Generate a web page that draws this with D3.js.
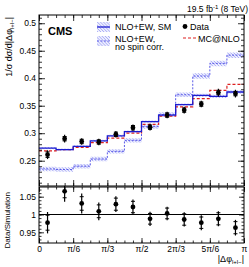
<!DOCTYPE html>
<html>
<head>
<meta charset="utf-8">
<script src="https://cdn.jsdelivr.net/npm/d3@7"></script>
<style>
  body { margin: 0; background: #fff; }
  svg { display: block; font-family: 'Liberation Sans', Arial, sans-serif; }
</style>
</head>
<body>
<div id="chart"></div>
<script>
// values, 12 bins in |dphi| from 0 to pi
var binCount = 12
var dataVals = [0.261, 0.290, 0.285, 0.284, 0.298, 0.310, 0.311, 0.333, 0.342, 0.353, 0.374, 0.372]
var dataTotErr = [0.008, 0.007, 0.006, 0.006, 0.006, 0.006, 0.006, 0.006, 0.006, 0.006, 0.007, 0.007]
var dataStatErr = [0.005, 0.004, 0.004, 0.004, 0.004, 0.004, 0.004, 0.004, 0.004, 0.004, 0.004, 0.004]
var smVals = [0.273, 0.270, 0.276, 0.286, 0.295, 0.303, 0.321, 0.333, 0.352, 0.369, 0.367, 0.375]
var smUnc = [0.002, 0.002, 0.002, 0.002, 0.002, 0.002, 0.002, 0.002, 0.002, 0.003, 0.003, 0.003]
var noSpinVals = [0.235, 0.234, 0.240, 0.253, 0.267, 0.287, 0.312, 0.334, 0.370, 0.404, 0.427, 0.442]
var noSpinUnc = [0.004, 0.004, 0.004, 0.004, 0.004, 0.004, 0.004, 0.004, 0.004, 0.005, 0.005, 0.005]
var mcVals = [0.268, 0.270, 0.274, 0.283, 0.291, 0.300, 0.316, 0.331, 0.348, 0.363, 0.378, 0.389]
var ratioVals = [0.977, 1.065, 1.031, 1.009, 1.029, 1.021, 0.988, 1.003, 0.986, 0.977, 0.988, 0.963]
var ratioTotErr = [0.030, 0.029, 0.028, 0.025, 0.022, 0.021, 0.020, 0.019, 0.020, 0.021, 0.021, 0.022]
var ratioStatErr = [0.021, 0.018, 0.019, 0.018, 0.017, 0.016, 0.015, 0.015, 0.016, 0.016, 0.017, 0.017]

var xTickVals = [0, Math.PI / 6, Math.PI / 3, Math.PI / 2, 2 * Math.PI / 3, 5 * Math.PI / 6, Math.PI]
var xTickLabels = ['0', 'π/6', 'π/3', 'π/2', '2π/3', '5π/6', 'π']
var yMainTicks = [0.25, 0.3, 0.35, 0.4, 0.45, 0.5]
var yMainLabels = ['0.25', '0.3', '0.35', '0.4', '0.45', '0.5']
var yRatioTicks = [0.95, 1, 1.05]
var yRatioLabels = ['0.95', '1', '1.05']

var width = 249
var height = 267
var left = 39
var right = 244
var mainTop = 15
var mainBottom = 186
var ratioBottom = 243

var svg = d3.select('#chart')
  .append('svg')
  .attr('width', width)
  .attr('height', height)

var defs = svg.append('defs')
var hatch = defs.append('pattern')
  .attr('id', 'hatch')
  .attr('patternUnits', 'userSpaceOnUse')
  .attr('width', 2.2)
  .attr('height', 2.2)
  .attr('patternTransform', 'rotate(-45)')
hatch.append('rect').attr('width', 2.2).attr('height', 2.2).attr('fill', '#eef0ff')
hatch.append('line')
  .attr('x1', 0).attr('y1', 0).attr('x2', 0).attr('y2', 2.2)
  .attr('stroke', '#8c8cf0').attr('stroke-width', 1)

defs.append('clipPath').attr('id', 'clipMain')
  .append('rect').attr('x', left).attr('y', mainTop).attr('width', right - left).attr('height', mainBottom - mainTop)
defs.append('clipPath').attr('id', 'clipRatio')
  .append('rect').attr('x', left).attr('y', mainBottom).attr('width', right - left).attr('height', ratioBottom - mainBottom)

// scales
var x = d3.scaleLinear().domain([0, Math.PI]).range([left, right])
var yMain = d3.scaleLinear().domain([0.204, 0.515]).range([mainBottom, mainTop])
var yRatio = d3.scaleLinear().domain([0.92, 1.08]).range([ratioBottom, mainBottom])

var edges = d3.range(binCount + 1).map(i => i * Math.PI / binCount)
var centers = d3.range(binCount).map(i => (edges[i] + edges[i + 1]) / 2)
var xMinor = d3.range(25).map(i => i * Math.PI / 24)

function stepPoints (vals) {
  var pts = vals.map((v, i) => [edges[i], v])
  pts.push([edges[binCount], vals[binCount - 1]])
  return pts
}

var mainG = svg.append('g').attr('clip-path', 'url(#clipMain)')

// bands
function band (vals, unc) {
  var pts = vals.map((v, i) => ({ x: edges[i], lo: v - unc[i], hi: v + unc[i] }))
  pts.push({ x: edges[binCount], lo: pts[binCount - 1].lo, hi: pts[binCount - 1].hi })
  return d3.area().curve(d3.curveStepAfter)
    .x(d => x(d.x))
    .y0(d => yMain(d.lo))
    .y1(d => yMain(d.hi))(pts)
}

mainG.append('path').attr('d', band(noSpinVals, noSpinUnc)).attr('fill', 'url(#hatch)')
mainG.append('path').attr('d', band(smVals, smUnc)).attr('fill', 'url(#hatch)')

var stepLine = d3.line().curve(d3.curveStepAfter)
  .x(d => x(d[0]))
  .y(d => yMain(d[1]))

mainG.append('path').attr('d', stepLine(stepPoints(noSpinVals)))
  .attr('fill', 'none').attr('stroke', '#5a5ae8').attr('stroke-width', 1)
  .attr('stroke-dasharray', '2,1.5')
mainG.append('path').attr('d', stepLine(stepPoints(mcVals)))
  .attr('fill', 'none').attr('stroke', '#dd2020').attr('stroke-width', 1.2)
  .attr('stroke-dasharray', '3,2')
mainG.append('path').attr('d', stepLine(stepPoints(smVals)))
  .attr('fill', 'none').attr('stroke', '#1c1cd0').attr('stroke-width', 1.3)

// data points
function drawPoints (g, yScale, vals, tot, stat) {
  var pts = g.selectAll('g.pt')
    .data(vals.map((v, i) => ({ x: centers[i], v: v, tot: tot[i], stat: stat[i] })))
    .enter().append('g').attr('class', 'pt')
  pts.append('line')
    .attr('x1', d => x(d.x)).attr('x2', d => x(d.x))
    .attr('y1', d => yScale(d.v - d.tot)).attr('y2', d => yScale(d.v + d.tot))
    .attr('stroke', '#000').attr('stroke-width', 1.2)
  pts.append('line')
    .attr('x1', d => x(d.x) - 2).attr('x2', d => x(d.x) + 2)
    .attr('y1', d => yScale(d.v - d.stat)).attr('y2', d => yScale(d.v - d.stat))
    .attr('stroke', '#000').attr('stroke-width', 1)
  pts.append('line')
    .attr('x1', d => x(d.x) - 2).attr('x2', d => x(d.x) + 2)
    .attr('y1', d => yScale(d.v + d.stat)).attr('y2', d => yScale(d.v + d.stat))
    .attr('stroke', '#000').attr('stroke-width', 1)
  pts.append('circle')
    .attr('cx', d => x(d.x)).attr('cy', d => yScale(d.v))
    .attr('r', 2.4).attr('fill', '#000')
}

drawPoints(mainG, yMain, dataVals, dataTotErr, dataStatErr)

// ratio panel
var ratioG = svg.append('g').attr('clip-path', 'url(#clipRatio)')
ratioG.append('line')
  .attr('x1', x(0)).attr('x2', x(Math.PI))
  .attr('y1', yRatio(1)).attr('y2', yRatio(1))
  .attr('stroke', '#000').attr('stroke-width', 1)
drawPoints(ratioG, yRatio, ratioVals, ratioTotErr, ratioStatErr)

// axes, ticks pointing inwards on all four sides
function tickAxis (axisFn, scale, vals, size, fmt, transform) {
  var ax = axisFn(scale).tickValues(vals).tickSizeInner(-size).tickSizeOuter(0).tickPadding(3)
  if (fmt) ax.tickFormat((d, i) => fmt[i])
  else ax.tickFormat('')
  var g = svg.append('g').attr('class', 'axis').attr('transform', transform).call(ax)
  g.select('.domain').remove()
  g.selectAll('line').attr('stroke', '#000').attr('stroke-width', 0.8)
  g.selectAll('text').attr('font-size', 8.5).attr('fill', '#000').attr('font-family', "'Liberation Sans', Arial, sans-serif")
  return g
}

var yMainMinor = d3.range(21, 52).map(i => i / 100)
var yRatioMinor = d3.range(93, 108).map(i => i / 100)

// main panel
tickAxis(d3.axisLeft, yMain, yMainTicks, 6, yMainLabels, 'translate(' + left + ',0)')
tickAxis(d3.axisLeft, yMain, yMainMinor, 3, null, 'translate(' + left + ',0)')
tickAxis(d3.axisRight, yMain, yMainTicks, 6, null, 'translate(' + right + ',0)')
tickAxis(d3.axisRight, yMain, yMainMinor, 3, null, 'translate(' + right + ',0)')
tickAxis(d3.axisBottom, x, xTickVals, 6, null, 'translate(0,' + mainBottom + ')')
tickAxis(d3.axisBottom, x, xMinor, 3, null, 'translate(0,' + mainBottom + ')')
tickAxis(d3.axisTop, x, xTickVals, 6, null, 'translate(0,' + mainTop + ')')
tickAxis(d3.axisTop, x, xMinor, 3, null, 'translate(0,' + mainTop + ')')

// ratio panel
tickAxis(d3.axisLeft, yRatio, yRatioTicks, 5, yRatioLabels, 'translate(' + left + ',0)')
tickAxis(d3.axisLeft, yRatio, yRatioMinor, 2.5, null, 'translate(' + left + ',0)')
tickAxis(d3.axisRight, yRatio, yRatioTicks, 5, null, 'translate(' + right + ',0)')
tickAxis(d3.axisRight, yRatio, yRatioMinor, 2.5, null, 'translate(' + right + ',0)')
tickAxis(d3.axisBottom, x, xTickVals, 5, xTickLabels, 'translate(0,' + ratioBottom + ')')
tickAxis(d3.axisBottom, x, xMinor, 2.5, null, 'translate(0,' + ratioBottom + ')')
tickAxis(d3.axisTop, x, xTickVals, 5, null, 'translate(0,' + (mainBottom + 1) + ')')
tickAxis(d3.axisTop, x, xMinor, 2.5, null, 'translate(0,' + (mainBottom + 1) + ')')

// frames
svg.append('rect').attr('x', left).attr('y', mainTop).attr('width', right - left).attr('height', mainBottom - mainTop)
  .attr('fill', 'none').attr('stroke', '#000').attr('stroke-width', 1)
svg.append('rect').attr('x', left).attr('y', mainBottom + 1).attr('width', right - left).attr('height', ratioBottom - mainBottom - 1)
  .attr('fill', 'none').attr('stroke', '#000').attr('stroke-width', 1)

// titles
var lumi = svg.append('text').attr('x', 248).attr('y', 12).attr('text-anchor', 'end').attr('font-size', 8.5)
lumi.append('tspan').text('19.5 fb')
lumi.append('tspan').attr('dy', -3).attr('font-size', 6).text('-1')
lumi.append('tspan').attr('dy', 3).text(' (8 TeV)')

svg.append('text').attr('x', 48).attr('y', 35).attr('font-size', 11).attr('font-weight', 'bold').text('CMS')

var yLab = svg.append('text')
  .attr('transform', 'translate(12,17) rotate(-90)')
  .attr('text-anchor', 'end').attr('font-size', 9)
yLab.append('tspan').text('1/σ dσ/d|Δφ')
yLab.append('tspan').attr('dy', 2).attr('font-size', 6).text('l+l−')
yLab.append('tspan').attr('dy', -2).text('|')

svg.append('text')
  .attr('transform', 'translate(10,192) rotate(-90)')
  .attr('text-anchor', 'end').attr('font-size', 8).text('Data/Simulation')

var xLab = svg.append('text').attr('x', 244).attr('y', 262).attr('text-anchor', 'end').attr('font-size', 9)
xLab.append('tspan').text('|Δφ')
xLab.append('tspan').attr('dy', 2).attr('font-size', 6).text('l+l−')
xLab.append('tspan').attr('dy', -2).text('|')

// legend
var legend = svg.append('g').attr('font-size', 9)
legend.append('rect').attr('x', 97).attr('y', 22).attr('width', 13).attr('height', 10).attr('fill', 'url(#hatch)')
legend.append('line').attr('x1', 97).attr('x2', 110).attr('y1', 27).attr('y2', 27)
  .attr('stroke', '#1c1cd0').attr('stroke-width', 1.3)
legend.append('text').attr('x', 115).attr('y', 30).text('NLO+EW, SM')
legend.append('rect').attr('x', 97).attr('y', 36).attr('width', 13).attr('height', 10).attr('fill', 'url(#hatch)')
legend.append('line').attr('x1', 97).attr('x2', 110).attr('y1', 41).attr('y2', 41)
  .attr('stroke', '#5a5ae8').attr('stroke-width', 1).attr('stroke-dasharray', '2,1.5')
legend.append('text').attr('x', 115).attr('y', 41.5).text('NLO+EW,')
legend.append('text').attr('x', 115).attr('y', 50).text('no spin corr.')
legend.append('circle').attr('cx', 185).attr('cy', 26.5).attr('r', 2.4).attr('fill', '#000')
legend.append('text').attr('x', 190).attr('y', 30).text('Data')
legend.append('line').attr('x1', 183).attr('x2', 196).attr('y1', 38).attr('y2', 38)
  .attr('stroke', '#dd2020').attr('stroke-width', 1.2).attr('stroke-dasharray', '3,2')
legend.append('text').attr('x', 198).attr('y', 41.5).text('MC@NLO')
</script>
</body>
</html>
